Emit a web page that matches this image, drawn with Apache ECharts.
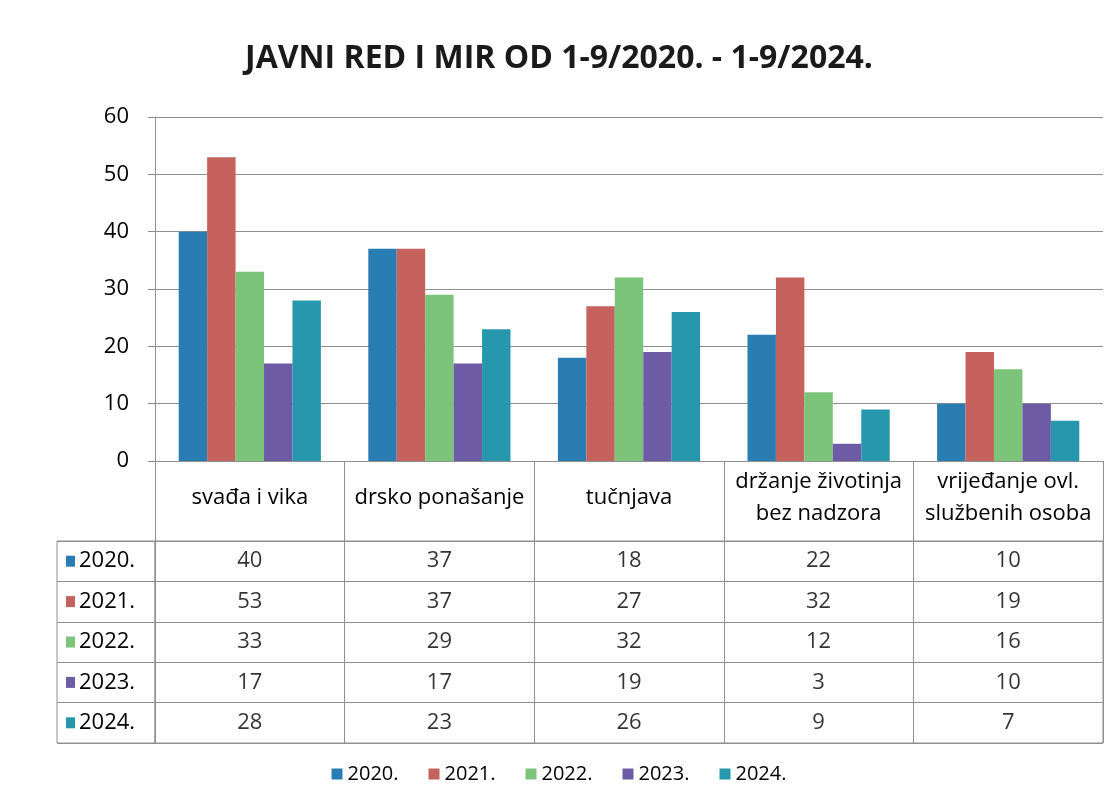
<!DOCTYPE html>
<html>
<head>
<meta charset="utf-8">
<script src="https://cdn.jsdelivr.net/npm/echarts@6/dist/echarts.min.js"></script>
<style>html,body{margin:0;padding:0;background:#fff}#c{width:1118px;height:809px}</style>
</head>
<body>
<div id="c"></div>
<script>
const titleText = 'JAVNI RED I MIR OD 1-9/2020. - 1-9/2024.';
const categories = ['svađa i vika', 'drsko ponašanje', 'tučnjava', 'držanje životinja\nbez nadzora', 'vrijeđanje ovl.\nslužbenih osoba'];
const years = ['2020.', '2021.', '2022.', '2023.', '2024.'];
const v2020 = [40, 37, 18, 22, 10];
const v2021 = [53, 37, 27, 32, 19];
const v2022 = [33, 29, 32, 12, 16];
const v2023 = [17, 17, 19, 3, 10];
const v2024 = [28, 23, 26, 9, 7];
const yTicks = [0, 10, 20, 30, 40, 50, 60];

const seriesValues = [v2020, v2021, v2022, v2023, v2024];
const colors = ['#2a7db3', '#c5625d', '#7cc47a', '#6d5ba6', '#2797ad'];
const lineColor = '#8f8f8f';
const font = 'Open Sans';

const rich = {};
years.forEach((y, i) => {
  rich['s' + i] = { backgroundColor: colors[i], width: 9, height: 11 };
});
rich.t = { fontSize: 22, color: '#000', fontFamily: font, padding: [0, 0, 0, 4] };

const tableData = [];
seriesValues.forEach((arr, yi) => {
  arr.forEach((v, ci) => tableData.push({ value: [ci, yi, v] }));
});

const barSeries = years.map((y, i) => ({
  name: y,
  type: 'bar',
  xAxisIndex: 0,
  yAxisIndex: 0,
  data: seriesValues[i],
  barGap: '0%',
  barCategoryGap: '25%',
  itemStyle: { color: colors[i] }
}));

const option = {
  animation: false,
  backgroundColor: '#fff',
  textStyle: { fontFamily: font },
  title: {
    text: titleText,
    left: 'center',
    top: 38,
    textStyle: { fontSize: 32, fontWeight: 'bold', color: '#1a1a1a', fontFamily: font }
  },
  legend: {
    data: years,
    bottom: 20,
    left: 'center',
    icon: 'rect',
    itemWidth: 11,
    itemHeight: 11,
    itemGap: 30,
    textStyle: { fontSize: 20, color: '#000', fontFamily: font }
  },
  grid: [
    { left: 155, right: 15, top: 117, bottom: 348 },
    { left: 155, right: 15, top: 541, bottom: 66, show: true, borderColor: lineColor, borderWidth: 1 },
    { left: 57, width: 98, top: 541, bottom: 66, show: true, borderColor: lineColor, borderWidth: 1 }
  ],
  xAxis: [
    {
      type: 'category', gridIndex: 0, data: categories,
      axisLine: { show: true, lineStyle: { color: lineColor } },
      axisTick: { show: true, interval: 0, length: 80, lineStyle: { color: lineColor } },
      axisLabel: { interval: 0, fontSize: 22, color: '#000', lineHeight: 32, margin: 37, verticalAlign: 'middle', fontFamily: font },
      splitLine: { show: false }
    },
    {
      type: 'category', gridIndex: 1, data: categories,
      axisLine: { show: false }, axisTick: { show: false }, axisLabel: { show: false },
      splitLine: { show: true, interval: 0, lineStyle: { color: lineColor } }
    },
    { type: 'value', gridIndex: 2, show: false, min: 0, max: 1 }
  ],
  yAxis: [
    {
      type: 'value', gridIndex: 0, min: yTicks[0], max: yTicks[yTicks.length - 1], interval: 10,
      axisLine: { show: true, lineStyle: { color: lineColor } },
      axisTick: { show: true, length: 7, lineStyle: { color: lineColor } },
      axisLabel: { fontSize: 22, color: '#000', margin: 26, fontFamily: font },
      splitLine: { show: true, lineStyle: { color: lineColor } }
    },
    {
      type: 'category', gridIndex: 1, data: years, inverse: true,
      axisLine: { show: false }, axisTick: { show: false }, axisLabel: { show: false },
      splitLine: { show: true, interval: 0, lineStyle: { color: lineColor } }
    },
    {
      type: 'category', gridIndex: 2, data: years, inverse: true,
      axisLine: { show: false }, axisTick: { show: false },
      axisLabel: {
        inside: true, margin: 9, interval: 0,
        formatter: (val, idx) => '{s' + idx + '|}{t|' + val + '}',
        rich: rich
      },
      splitLine: { show: true, interval: 0, lineStyle: { color: lineColor } }
    }
  ],
  series: barSeries.concat([{
    type: 'scatter',
    xAxisIndex: 1,
    yAxisIndex: 1,
    data: tableData,
    symbolSize: 1,
    itemStyle: { color: 'rgba(0,0,0,0)' },
    label: {
      show: true, position: 'inside',
      formatter: p => String(p.value[2]),
      fontSize: 22, color: '#000', fontFamily: font
    },
    silent: true
  }])
};

const chart = echarts.init(document.getElementById('c'), null, { renderer: 'canvas' });
chart.setOption(option);
</script>
</body>
</html>
